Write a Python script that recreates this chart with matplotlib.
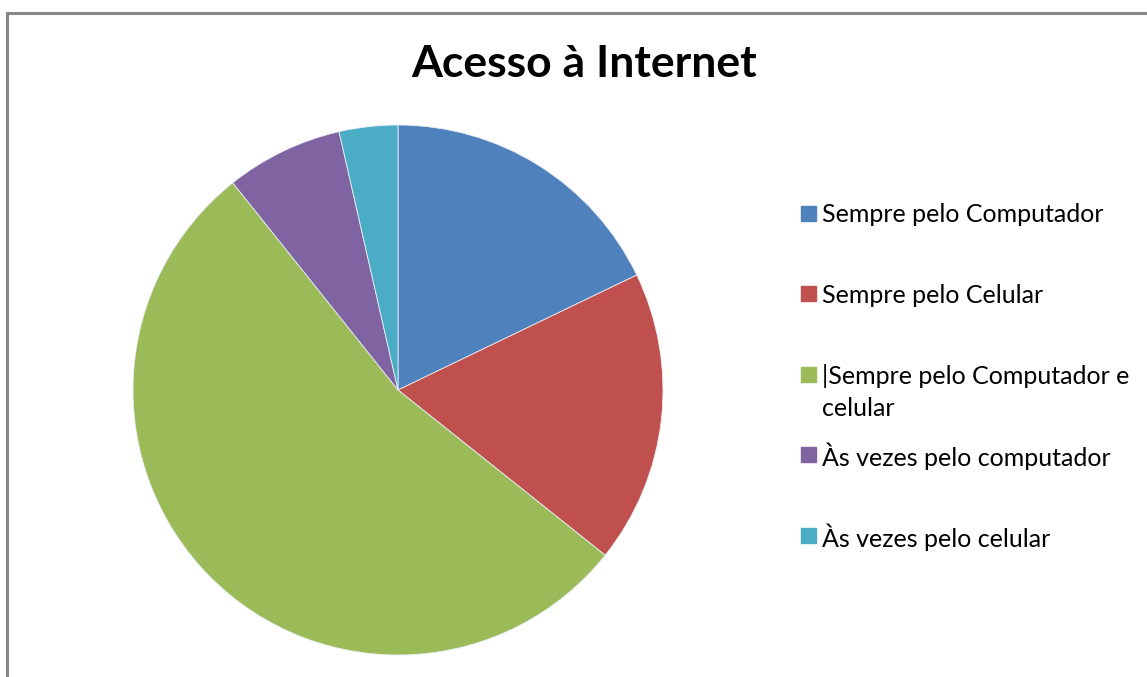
from matplotlib import pyplot as plt
from matplotlib.patches import Rectangle
from matplotlib.lines import Line2D

plt.rcParams['font.family'] = ['Lato', 'DejaVu Sans']

labels = [
    "Sempre pelo Computador",
    "Sempre pelo Celular",
    "|Sempre pelo Computador e\ncelular",
    "Às vezes pelo computador",
    "Às vezes pelo celular",
]
values = [5, 5, 15, 2, 1]
colors = ["#4F81BD", "#C0504D", "#9BBB59", "#8064A2", "#4BACC6"]

W, H = 1147, 677
fig = plt.figure(figsize=(W / 100, H / 100), dpi=100)

# moldura cinza da área do gráfico (só topo e esquerda aparecem)
fig.add_artist(Line2D([7.5 / W, 7.5 / W], [0, 1 - 13 / H], color="#888888", lw=2.2))
fig.add_artist(Line2D([7.5 / W, 1], [1 - 13 / H, 1 - 13 / H], color="#888888", lw=2.2))

# pizza
ax = fig.add_axes([133 / W, 1 - 655 / H, 530 / W, 530 / H])
ax.pie(values, colors=colors, startangle=90, counterclock=False, radius=1,
       wedgeprops=dict(edgecolor="#e8eef5", linewidth=0.6))
ax.set_xlim(-1, 1)
ax.set_ylim(-1, 1)
ax.set_aspect("equal")
ax.axis("off")

fig.text(584 / W, 1 - 64 / H, "Acesso à Internet", ha="center", va="center",
         fontsize=32, fontweight="bold")

# legenda feita à mão: quadradinho + texto (uma linha de texto por vez)
y0, dy, line_h = 213, 80.5, 32
for i, (lab, c) in enumerate(zip(labels, colors)):
    yc = y0 + dy * i
    fig.add_artist(Rectangle((801 / W, 1 - (yc + 7.5) / H), 15 / W, 15 / H,
                             color=c, transform=fig.transFigure))
    for j, line in enumerate(lab.split("\n")):
        fig.text(822 / W, 1 - (yc + j * line_h) / H, line, ha="left",
                 va="center_baseline", fontsize=18)

fig.savefig("out.png", dpi=100)
